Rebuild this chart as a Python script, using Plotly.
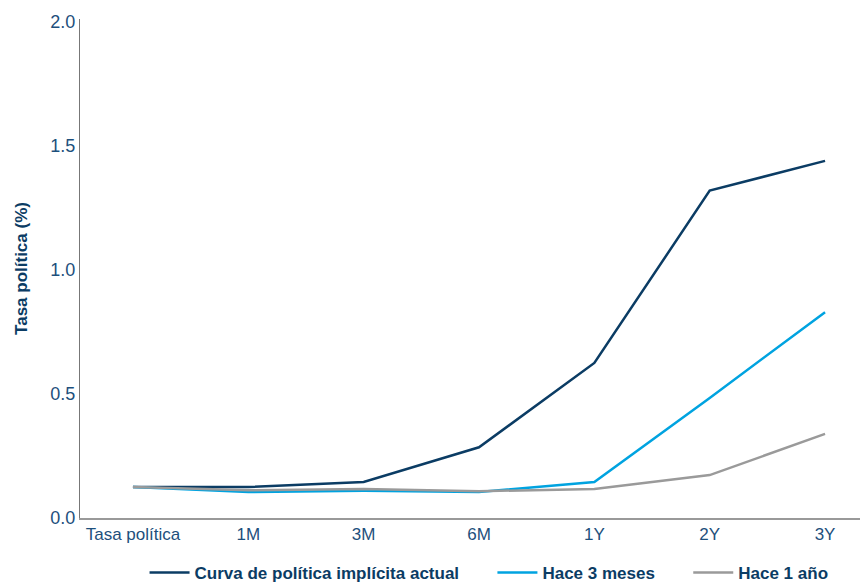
import plotly.graph_objects as go

categories = ["Tasa política", "1M", "3M", "6M", "1Y", "2Y", "3Y"]
curva_actual = [0.125, 0.125, 0.145, 0.285, 0.625, 1.32, 1.44]
hace_3_meses = [0.125, 0.105, 0.11, 0.105, 0.145, 0.484, 0.83]
hace_1_ano = [0.125, 0.112, 0.117, 0.108, 0.117, 0.173, 0.339]

series_names = ["Curva de política implícita actual", "Hace 3 meses", "Hace 1 año"]
colors = ["#0b3c64", "#00a3e0", "#9a9a9a"]

pad = "\u00a0" * 6
fig = go.Figure()
for i, (name, vals, col) in enumerate(zip(series_names, [curva_actual, hace_3_meses, hace_1_ano], colors)):
    label = name + (pad if i < len(series_names) - 1 else "")
    fig.add_trace(go.Scatter(x=list(range(len(categories))), y=vals, mode="lines", name=label,
                             line=dict(color=col, width=2.5)))

font_main = "Liberation Sans Narrow, Arial Narrow, Liberation Sans, Arial, sans-serif"
text_col = "#1d4f7c"

fig.update_layout(
    width=861, height=584,
    margin=dict(l=80, r=1, t=19, b=66, autoexpand=False),
    plot_bgcolor="white", paper_bgcolor="white",
    font=dict(family=font_main, color=text_col, size=16),
    showlegend=True,
    legend=dict(orientation="h", x=0.568, xanchor="center", xref="container",
                y=0.019, yanchor="middle", yref="container",
                font=dict(size=17, color="#0b3c64", family=font_main, weight="bold"),
                itemwidth=40, traceorder="normal"),
    xaxis=dict(tickmode="array", tickvals=list(range(len(categories))), ticktext=categories,
               range=[-0.459, 6.303], showgrid=False, zeroline=False,
               showline=True, linecolor="#999999", linewidth=1.5, ticks="",
               tickfont=dict(size=17, color=text_col)),
    yaxis=dict(range=[0, 2.012], tickvals=[0, 0.5, 1.0, 1.5, 2.0],
               ticktext=["0.0", "0.5", "1.0", "1.5", "2.0"],
               showgrid=False, zeroline=False, showline=True, linecolor="#777777",
               linewidth=1.2, ticks="", tickfont=dict(size=18, color=text_col),
               title=dict(text="<b>Tasa política (%)</b>", standoff=18,
                          font=dict(size=17, color="#0b3c64"))),
)

fig.write_html("out.html")
